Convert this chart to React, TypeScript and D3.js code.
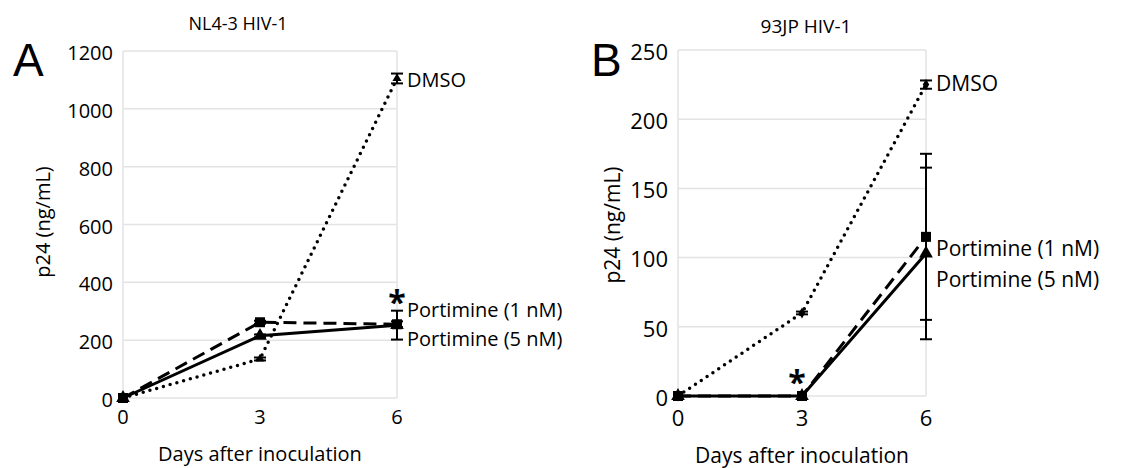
import React, { useRef, useEffect } from "react";
import * as d3 from "d3";

// days after inoculation
const days = [0, 3, 6];
const xTicks = ["0", "3", "6"];

// panel A: NL4-3 HIV-1
const nlDmso = [0, 135, 1105];
const nlDmsoErr = [0, 5, 17];
const nlPort1 = [0, 262, 255];
const nlPort1Err = [0, 5, 10];
const nlPort5 = [0, 215, 252];
const nlPort5Err = [0, 5, 50];
const nlTicks = [0, 200, 400, 600, 800, 1000, 1200];

// panel B: 93JP HIV-1
const jpDmso = [0, 60, 225];
const jpDmsoErr = [0, 1, 3];
const jpPort1 = [0, 0, 115];
const jpPort1Err = [0, 0, 60];
const jpPort5 = [0, 0, 103];
const jpPort5Err = [0, 0, 62];
const jpTicks = [0, 50, 100, 150, 200, 250];

const FONT = "'Open Sans', sans-serif";

const drawPanel = (svg, opts) => {
  const g = svg.append("g");
  const { left, right, top, bottom, fs } = opts;

  const x = d3.scaleLinear().domain([0, 6]).range([left, right]);
  const y = d3.scaleLinear().domain([0, opts.max]).range([bottom, top]);

  // grid + light frame
  g.selectAll(".grid")
    .data(opts.ticks)
    .enter()
    .append("line")
    .attr("x1", left)
    .attr("x2", right)
    .attr("y1", d => y(d))
    .attr("y2", d => y(d))
    .attr("stroke", "#e3e3e3")
    .attr("stroke-width", 1.5);
  [left, right].forEach(px => {
    g.append("line")
      .attr("x1", px).attr("x2", px)
      .attr("y1", top).attr("y2", bottom)
      .attr("stroke", "#e3e3e3")
      .attr("stroke-width", 1.5);
  });

  // y tick labels
  g.selectAll(".ytl")
    .data(opts.ticks)
    .enter()
    .append("text")
    .attr("x", left - 10)
    .attr("y", d => y(d) + 2)
    .attr("dy", "0.35em")
    .attr("text-anchor", "end")
    .attr("font-family", FONT)
    .attr("font-size", fs.tick)
    .text(d => d);

  // x tick labels
  g.selectAll(".xtl")
    .data(days)
    .enter()
    .append("text")
    .attr("x", d => x(d))
    .attr("y", bottom + opts.xTickDy)
    .attr("text-anchor", "middle")
    .attr("font-family", FONT)
    .attr("font-size", fs.tick)
    .text((d, i) => xTicks[i]);

  // axis titles
  g.append("text")
    .attr("x", (left + right) / 2)
    .attr("y", opts.xTitleY)
    .attr("text-anchor", "middle")
    .attr("font-family", FONT)
    .attr("font-size", fs.axis)
    .text("Days after inoculation");
  g.append("text")
    .attr("transform", `translate(${opts.yTitleX},${opts.yTitleY}) rotate(-90)`)
    .attr("text-anchor", "middle")
    .attr("font-family", FONT)
    .attr("font-size", fs.axis)
    .text("p24 (ng/mL)");

  // title and panel letter
  g.append("text")
    .attr("x", opts.titleX)
    .attr("y", opts.titleY)
    .attr("text-anchor", "middle")
    .attr("font-family", FONT)
    .attr("font-size", fs.title)
    .text(opts.title);
  g.append("text")
    .attr("x", opts.letterX)
    .attr("y", 76)
    .attr("font-family", "'Liberation Sans', Arial, sans-serif")
    .attr("font-size", 46)
    .text(opts.letter);

  const line = d3.line().x((d, i) => x(days[i])).y(d => y(d));

  const series = [
    { vals: opts.dmso, err: opts.dmsoErr, dash: "0 7", cap: "round", width: 3.5, marker: opts.dmsoMarker, size: 6 },
    { vals: opts.port1, err: opts.port1Err, dash: "13 7", cap: "butt", width: 3, marker: "square", size: 10 },
    { vals: opts.port5, err: opts.port5Err, dash: null, cap: "butt", width: 3, marker: "triangle", size: 9 },
  ];

  series.forEach(s => {
    g.append("path")
      .datum(s.vals)
      .attr("d", line)
      .attr("fill", "none")
      .attr("stroke", "#000")
      .attr("stroke-width", s.width)
      .attr("stroke-linecap", s.cap)
      .attr("stroke-dasharray", s.dash);

    // error bars
    s.vals.forEach((v, i) => {
      const e = s.err[i];
      if (!e) return;
      const cx = x(days[i]);
      g.append("line")
        .attr("x1", cx).attr("x2", cx)
        .attr("y1", y(v - e)).attr("y2", y(v + e))
        .attr("stroke", "#000").attr("stroke-width", 2);
      [v - e, v + e].forEach(ev => {
        g.append("line")
          .attr("x1", cx - 6).attr("x2", cx + 6)
          .attr("y1", y(ev)).attr("y2", y(ev))
          .attr("stroke", "#000").attr("stroke-width", 2);
      });
    });

    // markers
    const sym =
      s.marker === "square" ? d3.symbolSquare :
      s.marker === "triangle" ? d3.symbolTriangle : d3.symbolDiamond;
    g.selectAll(null)
      .data(s.vals)
      .enter()
      .append("path")
      .attr("transform", (d, i) => `translate(${x(days[i])},${y(d)})`)
      .attr("d", d3.symbol().type(sym).size(s.size * s.size))
      .attr("fill", "#000");
  });

  // series labels
  opts.labels.forEach(l => {
    g.append("text")
      .attr("x", right + opts.labelDx)
      .attr("y", l.y)
      .attr("dy", "0.35em")
      .attr("font-family", FONT)
      .attr("font-size", fs.label)
      .text(l.text);
  });

  // significance mark
  g.append("text")
    .attr("x", opts.star[0])
    .attr("y", opts.star[1])
    .attr("text-anchor", "middle")
    .attr("font-family", FONT)
    .attr("font-size", 32)
    .attr("font-weight", "bold")
    .text("*");
};

const App = () => {
  const svgRef = useRef(null);

  useEffect(() => {
    const svg = d3.select(svgRef.current);
    svg.selectAll("*").remove();

    drawPanel(svg, {
      left: 123, right: 397, top: 51, bottom: 398,
      max: 1200, ticks: nlTicks,
      fs: { tick: 20, axis: 20, title: 18, label: 20 },
      xTickDy: 26, xTitleY: 461,
      dmso: nlDmso, dmsoErr: nlDmsoErr, dmsoMarker: "triangle",
      port1: nlPort1, port1Err: nlPort1Err,
      port5: nlPort5, port5Err: nlPort5Err,
      title: "NL4-3 HIV-1", titleX: 238, titleY: 30,
      letter: "A", letterX: 13, yTitleX: 50, yTitleY: 222,
      labelDx: 10,
      labels: [
        { text: "DMSO", y: 80 },
        { text: "Portimine (1 nM)", y: 310 },
        { text: "Portimine (5 nM)", y: 339 },
      ],
      star: [397, 314],
    });

    drawPanel(svg, {
      left: 678, right: 926, top: 50, bottom: 396,
      max: 250, ticks: jpTicks,
      fs: { tick: 22, axis: 21, title: 19, label: 21 },
      xTickDy: 30, xTitleY: 463,
      dmso: jpDmso, dmsoErr: jpDmsoErr, dmsoMarker: "diamond",
      port1: jpPort1, port1Err: jpPort1Err,
      port5: jpPort5, port5Err: jpPort5Err,
      title: "93JP HIV-1", titleX: 806, titleY: 33,
      letter: "B", letterX: 591, yTitleX: 620, yTitleY: 225,
      labelDx: 10,
      labels: [
        { text: "DMSO", y: 84 },
        { text: "Portimine (1 nM)", y: 249 },
        { text: "Portimine (5 nM)", y: 280 },
      ],
      star: [797, 394],
    });
  }, []);

  return (
    <svg
      ref={svgRef}
      width={1145}
      height={468}
      style={{ position: "absolute", left: 0, top: 0, background: "#fff" }}
    />
  );
};

export default App;
